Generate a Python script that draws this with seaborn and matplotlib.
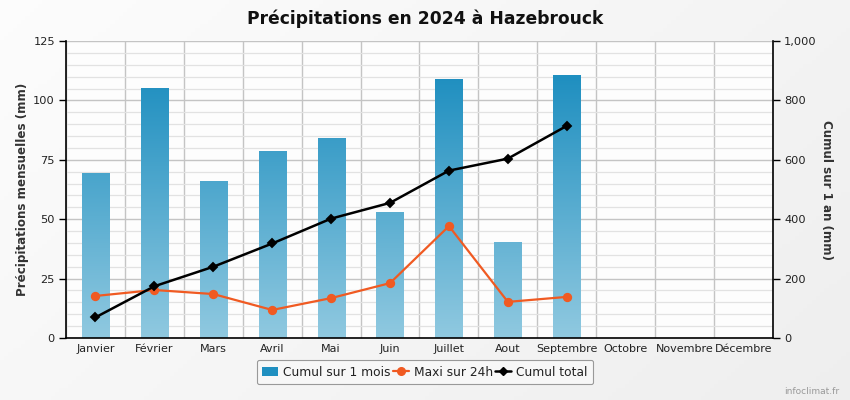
import numpy as np
import pandas as pd
import matplotlib
matplotlib.use("Agg")
import matplotlib.pyplot as plt
from matplotlib.patches import Patch
from matplotlib.lines import Line2D
from matplotlib.ticker import MultipleLocator, FixedLocator, FuncFormatter
from matplotlib.colors import to_rgb
import seaborn as sns

# ---- data ----
months = ["Janvier", "Février", "Mars", "Avril", "Mai", "Juin", "Juillet",
          "Aout", "Septembre", "Octobre", "Novembre", "Décembre"]
monthly_mm = [69.4, 104.8, 65.7, 78.3, 83.8, 53.0, 108.6, 40.4, 110.3]
max_24h = [17.7, 20.2, 18.5, 11.8, 16.8, 23.1, 47.1, 15.2, 17.3]
cumul_total = [69.4, 174.2, 239.9, 318.2, 402.0, 455.0, 563.6, 604.0, 714.3]
left_ticks = [0, 25, 50, 75, 100, 125]
right_ticks = [0, 200, 400, 600, 800, 1000]

n = len(monthly_mm)
df = pd.DataFrame({"mois": months[:n], "mensuel": monthly_mm,
                   "maxi": max_24h, "cumul": cumul_total})

sns.set_theme(style="white")
plt.rcParams["font.family"] = ["DejaVu Sans"]

W, H = 850, 400
fig = plt.figure(figsize=(8.5, 4), dpi=100)

# figure background gradient
bg = fig.add_axes([0, 0, 1, 1], zorder=-10)
gx = np.linspace(0, 1, 200)
gy = np.linspace(0, 1, 100)
GX, GY = np.meshgrid(gx, gy)
g = 0.99 - 0.055 * (0.65 * GX + 0.35 * GY)
bg.imshow(np.dstack([g, g, g]), extent=[0, 1, 0, 1], aspect="auto", origin="upper")
bg.set_axis_off()

ax = fig.add_axes([66 / W, 62 / H, 707 / W, 297 / H])
ax.set_facecolor("#fdfdfd")

orange = "#f05a22"
dark = np.array(to_rgb("#1f8fc0"))
light = np.array(to_rgb("#90c9e0"))

sns.barplot(data=df, x="mois", y="mensuel", order=months, width=0.46,
            color="#1f8fc0", saturation=1, errorbar=None, ax=ax, zorder=2)

# gradient fill for the bars (colour depends on height in data space)
for p in list(ax.patches):
    x0, w, h = p.get_x(), p.get_width(), p.get_height()
    if not np.isfinite(h) or h <= 0:
        continue
    ys = np.linspace(0, h, 256)
    t = np.clip(ys / 110.0, 0, 1)[:, None]
    cols = light[None, :] * (1 - t) + dark[None, :] * t
    img = cols[:, None, :]
    ax.imshow(img, extent=[x0, x0 + w, 0, h], origin="lower", aspect="auto",
              zorder=2.1, interpolation="bilinear")
    p.set_facecolor("none")
    p.set_edgecolor("none")

sns.pointplot(data=df, x="mois", y="maxi", order=months, color=orange,
              marker="o", markersize=5.5, linewidth=1.6, errorbar=None, ax=ax)
for l in ax.lines:
    l.set_zorder(4)

ax2 = ax.twinx()
sns.pointplot(data=df, x="mois", y="cumul", order=months, color="black",
              marker="D", markersize=4, linewidth=1.8, errorbar=None, ax=ax2)

# ---- axes formatting ----
ax.set_xlim(-0.5, 11.5)
ax.set_ylim(0, 125)
ax2.set_ylim(0, 1000)
ax.set_aspect("auto")

ax.set_xticks(range(12))
ax.set_xticklabels(months, fontsize=8, color="#222222")
ax.xaxis.set_minor_locator(FixedLocator(np.arange(-0.5, 11.6, 1.0)))
ax.tick_params(axis="x", which="major", length=0, pad=4)
ax.tick_params(axis="x", which="minor", length=5, width=1, color="#222222")

ax.set_yticks(left_ticks)
ax.yaxis.set_minor_locator(MultipleLocator(5))
ax.tick_params(axis="y", which="major", direction="out", length=5, width=1,
               labelsize=8.2, left=True, color="black", labelcolor="#222222", pad=3)
ax.tick_params(axis="y", which="minor", length=0)

ax2.set_yticks(right_ticks)
ax2.yaxis.set_major_formatter(FuncFormatter(lambda v, _: f"{v:,.0f}"))
ax2.tick_params(axis="y", which="major", direction="out", length=5, width=1,
                labelsize=8.2, right=True, color="black", labelcolor="#222222", pad=3)

ax.grid(False)
ax.yaxis.grid(True, which="major", color="#c4c4c4", lw=1, zorder=0)
ax.yaxis.grid(True, which="minor", color="#e2e2e2", lw=0.9, zorder=0)
ax.xaxis.grid(True, which="minor", color="#c4c4c4", lw=1, zorder=0)
ax.xaxis.grid(False, which="major")
ax.set_axisbelow(True)
ax2.grid(False)

ax.spines["top"].set_visible(False)
ax2.spines["top"].set_visible(False)
ax.spines["right"].set_visible(False)
ax.spines["left"].set_color("black")
ax.spines["left"].set_linewidth(1.2)
ax.spines["bottom"].set_color("black")
ax.spines["bottom"].set_linewidth(1.2)
ax2.spines["left"].set_visible(False)
ax2.spines["bottom"].set_visible(False)
ax2.spines["right"].set_color("black")
ax2.spines["right"].set_linewidth(1.2)

ax.set_xlabel("")
ax2.set_xlabel("")
ax.set_ylabel("Précipitations mensuelles (mm)", fontsize=8.6,
              fontweight="bold", color="#333333", labelpad=3)
ax2.set_ylabel("Cumul sur 1 an (mm)", fontsize=8.6, fontweight="bold",
               color="#333333", rotation=270, labelpad=12)

fig.text(0.5, 1 - 19 / H, "Précipitations en 2024 à Hazebrouck",
         ha="center", va="center", fontsize=12.3, fontweight="bold", color="#111111")

handles = [
    Patch(facecolor="#1f8fc0", edgecolor="none"),
    Line2D([], [], color=orange, marker="o", markersize=5.5, lw=1.6),
    Line2D([], [], color="black", marker="D", markersize=4, lw=1.8),
]
labels = ["Cumul sur 1 mois", "Maxi sur 24h", "Cumul total"]
leg = fig.legend(handles, labels, loc="center", bbox_to_anchor=(425 / W, 1 - 372 / H),
                 ncol=3, fontsize=8.8, frameon=True, fancybox=True,
                 edgecolor="#999999", facecolor="#f7f7f7", framealpha=1,
                 handlelength=1.3, handletextpad=0.4, columnspacing=0.2,
                 borderpad=0.45)
leg.get_frame().set_linewidth(0.8)
for t in leg.get_texts():
    t.set_color("#222222")

fig.text(812 / W, 1 - 392 / H, "infoclimat.fr", ha="center", va="center",
         fontsize=6.5, color="#999999")

fig.savefig("out.png", dpi=100)
